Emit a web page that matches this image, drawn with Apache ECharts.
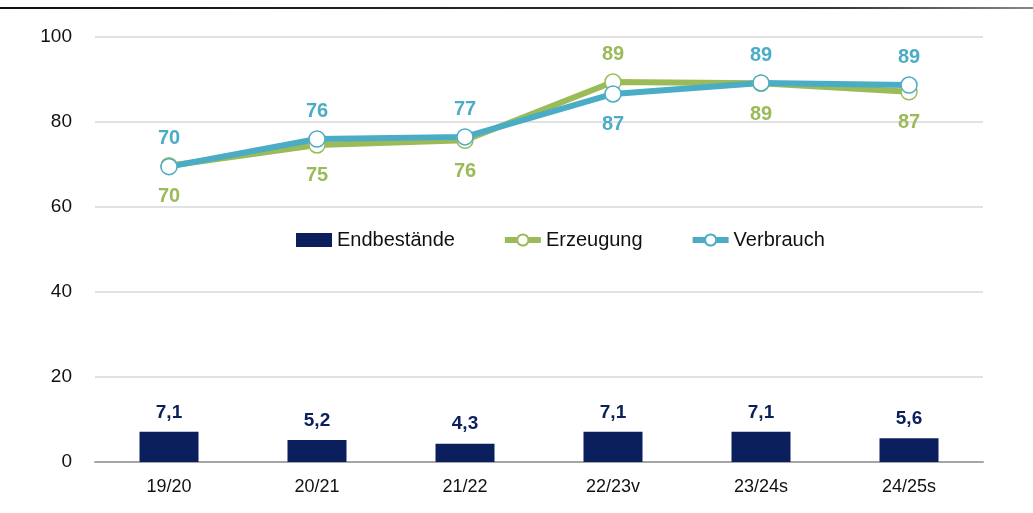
<!DOCTYPE html>
<html>
<head>
<meta charset="utf-8">
<script src="https://cdn.jsdelivr.net/npm/echarts@6/dist/echarts.min.js"></script>
<style>
  html, body { margin: 0; padding: 0; background: #fff; }
  #chart { width: 1033px; height: 513px; }
</style>
</head>
<body>
<div id="chart"></div>
<script>
const categories = ["19/20", "20/21", "21/22", "22/23v", "23/24s", "24/25s"];
const endbestaende = [7.1, 5.2, 4.3, 7.1, 7.1, 5.6];
const erzeugung = [69.7, 74.6, 75.7, 89.4, 89.1, 87.1];
const verbrauch = [69.5, 76.0, 76.5, 86.6, 89.2, 88.7];
// which side the rounded label sits on, per point
const erzeugungPos = ["bottom", "bottom", "bottom", "top", "bottom", "bottom"];
const verbrauchPos = ["top", "top", "top", "bottom", "top", "top"];

const GREEN = "#9bbb59";
const BLUE = "#4bacc6";
const NAVY = "#0b1f5c";
const FONT = "Liberation Sans, Arial, sans-serif";

function lineData(values, positions) {
    return values.map((v, i) => ({
        value: v,
        label: { position: positions[i], distance: positions[i] == "top" ? 9 : 12 }
    }));
}

function lineSeries(name, values, positions, color) {
    return {
        name: name,
        type: "line",
        data: lineData(values, positions),
        symbol: "circle",
        symbolSize: 16,
        lineStyle: { color: color, width: 6 },
        itemStyle: { color: "#fff", borderColor: color, borderWidth: 1.5 },
        label: {
            show: true,
            color: color,
            fontFamily: FONT,
            fontWeight: "bold",
            fontSize: 20,
            formatter: (p) => Math.round(p.value)
        },
        z: 3
    };
}

const chart = echarts.init(document.getElementById("chart"));
chart.setOption({
    animation: false,
    textStyle: { fontFamily: FONT },
    graphic: [{
        type: "line",
        shape: { x1: 0, y1: 8, x2: 1033, y2: 8 },
        style: {
            lineWidth: 2,
            stroke: {
                type: "linear", x: 0, y: 0, x2: 1, y2: 0,
                colorStops: [{ offset: 0, color: "#111" }, { offset: 0.8, color: "#333" }, { offset: 1, color: "#888" }]
            }
        }
    }],
    legend: {
        top: 230,
        left: 296,
        padding: 0,
        itemGap: 47,
        itemWidth: 36,
        itemHeight: 14,
        lineStyle: { width: 6 },
        textStyle: { fontFamily: FONT, fontSize: 20, color: "#111" },
        data: [
            { name: "Endbestände", icon: "rect" },
            { name: "Erzeugung" },
            { name: "Verbrauch" }
        ]
    },
    grid: { left: 95, right: 50, top: 37, bottom: 51 },
    xAxis: {
        type: "category",
        data: categories,
        axisTick: { show: false },
        axisLine: { lineStyle: { color: "#a6a6a6", width: 2 } },
        axisLabel: { color: "#111", fontSize: 18, margin: 16, fontFamily: FONT }
    },
    yAxis: {
        type: "value",
        min: 0,
        max: 100,
        interval: 20,
        axisLabel: { color: "#111", fontSize: 19, margin: 23, fontFamily: FONT },
        splitLine: { lineStyle: { color: "#d9d9d9", width: 1.5 } }
    },
    series: [
        {
            name: "Endbestände",
            type: "bar",
            data: endbestaende,
            barWidth: 59,
            itemStyle: { color: NAVY },
            label: {
                show: true,
                position: "top",
                distance: 10,
                color: NAVY,
                fontFamily: FONT,
                fontWeight: "bold",
                fontSize: 19,
                formatter: (p) => p.value.toFixed(1).replace(".", ",")
            }
        },
        lineSeries("Erzeugung", erzeugung, erzeugungPos, GREEN),
        lineSeries("Verbrauch", verbrauch, verbrauchPos, BLUE)
    ]
});
</script>
</body>
</html>
